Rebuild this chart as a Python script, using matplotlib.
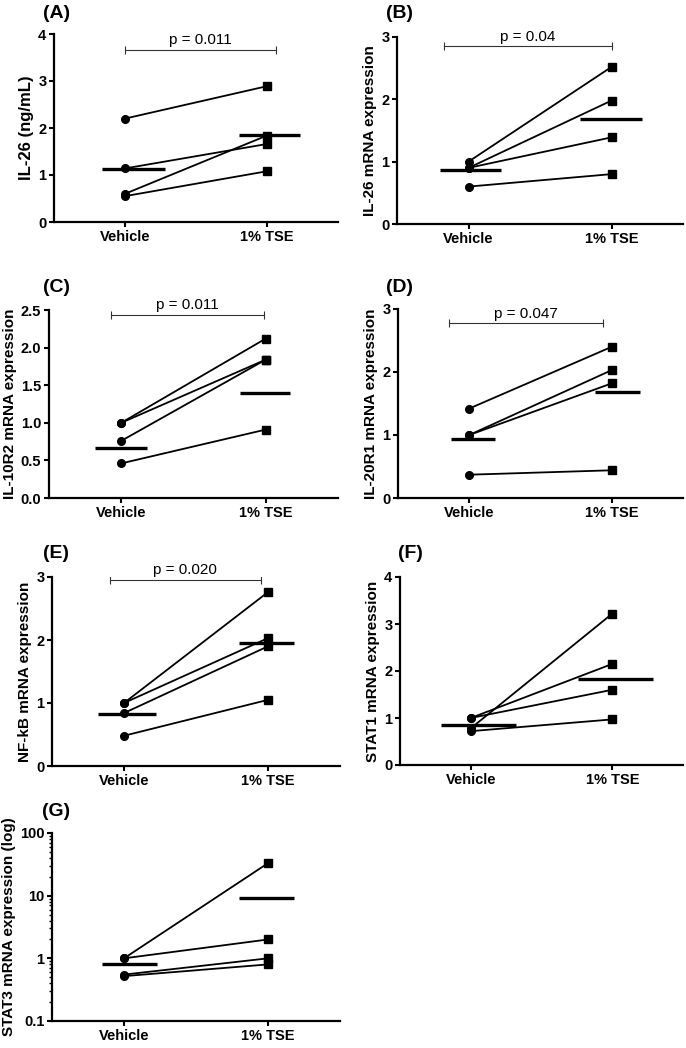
import matplotlib
matplotlib.use('Agg')
import matplotlib.pyplot as plt
from matplotlib.ticker import FixedLocator, LogLocator, NullFormatter

plt.rcParams['font.family'] = ['Liberation Sans', 'DejaVu Sans']

groups = ['Vehicle', '1% TSE']
letters = ['A', 'B', 'C', 'D', 'E', 'F', 'G']
ylabels = ['IL-26 (ng/mL)', 'IL-26 mRNA expression', 'IL-10R2 mRNA expression',
           'IL-20R1 mRNA expression', 'NF-kB mRNA expression',
           'STAT1 mRNA expression', 'STAT3 mRNA expression (log)']

# paired values, vehicle -> 1% TSE
vehicle = [
    [2.2, 1.14, 0.6, 0.55],
    [1.0, 0.9, 0.9, 0.6],
    [1.0, 1.0, 0.76, 0.46],
    [1.42, 1.0, 1.0, 0.37],
    [1.0, 1.0, 0.84, 0.48],
    [0.78, 1.0, 1.0, 0.72],
    [1.0, 1.0, 0.55, 0.52],
]
tse = [
    [2.89, 1.66, 1.84, 1.08],
    [2.52, 1.98, 1.39, 0.8],
    [2.12, 1.84, 1.84, 0.91],
    [2.4, 2.03, 1.82, 0.44],
    [2.76, 2.03, 1.9, 1.05],
    [3.22, 2.15, 1.6, 0.97],
    [33, 2.0, 1.0, 0.8],
]
# horizontal centre lines
centre_veh = [1.12, 0.87, 0.66, 0.93, 0.83, 0.86, 0.8]
centre_tse = [1.86, 1.68, 1.40, 1.68, 1.95, 1.84, 9.1]

yticks = [[0, 1, 2, 3, 4], [0, 1, 2, 3], [0, 0.5, 1.0, 1.5, 2.0, 2.5],
          [0, 1, 2, 3], [0, 1, 2, 3], [0, 1, 2, 3, 4], [0.1, 1, 10, 100]]
yticklabels = [['0', '1', '2', '3', '4'], ['0', '1', '2', '3'],
               ['0.0', '0.5', '1.0', '1.5', '2.0', '2.5'],
               ['0', '1', '2', '3'], ['0', '1', '2', '3'],
               ['0', '1', '2', '3', '4'], ['0.1', '1', '10', '100']]

pvals = ['p = 0.011', 'p = 0.04', 'p = 0.011', 'p = 0.047', 'p = 0.020', None, None]
bracket_y = [3.67, 2.85, 2.44, 2.77, 2.95, None, None]

# layout (pixels: left, right, top, bottom)
W, H = 686, 1048
boxes = [(54, 338, 34, 222), (397, 683, 37, 224), (49, 338, 310, 498),
         (398, 683, 309, 498), (52, 340, 577, 766), (400, 683, 577, 765),
         (52, 340, 833, 1021)]
label_pos = [(43, 13), (386, 13), (43, 287), (386, 287), (43, 553), (398, 553), (42, 812)]
bracket_x = [(0, 1.06), (-0.17, 1.0), (-0.07, 0.99), (-0.14, 0.94), (-0.1, 0.95), None, None]
bar_veh = [(-0.16, 0.28), (-0.20, 0.23), (-0.18, 0.18), (-0.13, 0.18),
           (-0.18, 0.22), (-0.21, 0.32), (-0.15, 0.23)]
bar_tse = [(-0.20, 0.23), (-0.22, 0.21), (-0.18, 0.17), (-0.12, 0.20),
           (-0.20, 0.18), (-0.24, 0.29), (-0.20, 0.18)]

fig = plt.figure(figsize=(W/100, H/100), dpi=100)

for i in range(7):
	l, r, t, b = boxes[i]
	ax = fig.add_axes([l/W, 1-b/H, (r-l)/W, (b-t)/H])
	log = (i == 6)
	if log:
		ax.set_yscale('log')
	for v, s in zip(vehicle[i], tse[i]):
		ax.plot([0, 1], [v, s], color='black', lw=1.3, zorder=2)
	ax.plot([0]*4, vehicle[i], 'o', color='black', ms=5.5, zorder=3)
	ax.plot([1]*4, tse[i], 's', color='black', ms=5.5, zorder=3)
	ax.hlines(centre_veh[i], bar_veh[i][0], bar_veh[i][1], color='black', lw=2.4, zorder=4)
	ax.hlines(centre_tse[i], 1+bar_tse[i][0], 1+bar_tse[i][1], color='black', lw=2.4, zorder=4)

	if pvals[i]:
		x0, x1 = bracket_x[i]
		y = bracket_y[i]
		ax.plot([x0, x1], [y, y], color='#333333', lw=0.8, marker='|', ms=6, mew=0.8)
		ax.annotate(pvals[i], xy=((x0+x1)/2, y), xytext=(0, 2), textcoords='offset points',
		            ha='center', va='bottom', fontsize=11)

	ax.set_xlim(-0.5, 1.5)
	ax.set_ylim(yticks[i][0], yticks[i][-1])
	ax.set_xticks([0, 1])
	ax.set_xticklabels(groups, fontsize=10.5, fontweight='bold')
	ax.yaxis.set_major_locator(FixedLocator(yticks[i]))
	ax.set_yticklabels(yticklabels[i], fontsize=10.5, fontweight='bold')
	if log:
		ax.yaxis.set_minor_locator(LogLocator(base=10, subs=range(2, 10)))
		ax.yaxis.set_minor_formatter(NullFormatter())
		ax.tick_params(axis='y', which='minor', length=2, width=1)
	ax.set_ylabel(ylabels[i], fontsize=11 if i else 12, fontweight='bold', labelpad=3)
	for side in ['top', 'right']:
		ax.spines[side].set_visible(False)
	for side in ['left', 'bottom']:
		ax.spines[side].set_linewidth(1.6)
	ax.tick_params(axis='both', which='major', length=3.5, width=1.5, pad=2)

	fig.text(label_pos[i][0]/W, 1-label_pos[i][1]/H, '(%s)' % letters[i],
	         fontsize=14, fontweight='bold', ha='left', va='center')

fig.savefig('out.png', dpi=100)
